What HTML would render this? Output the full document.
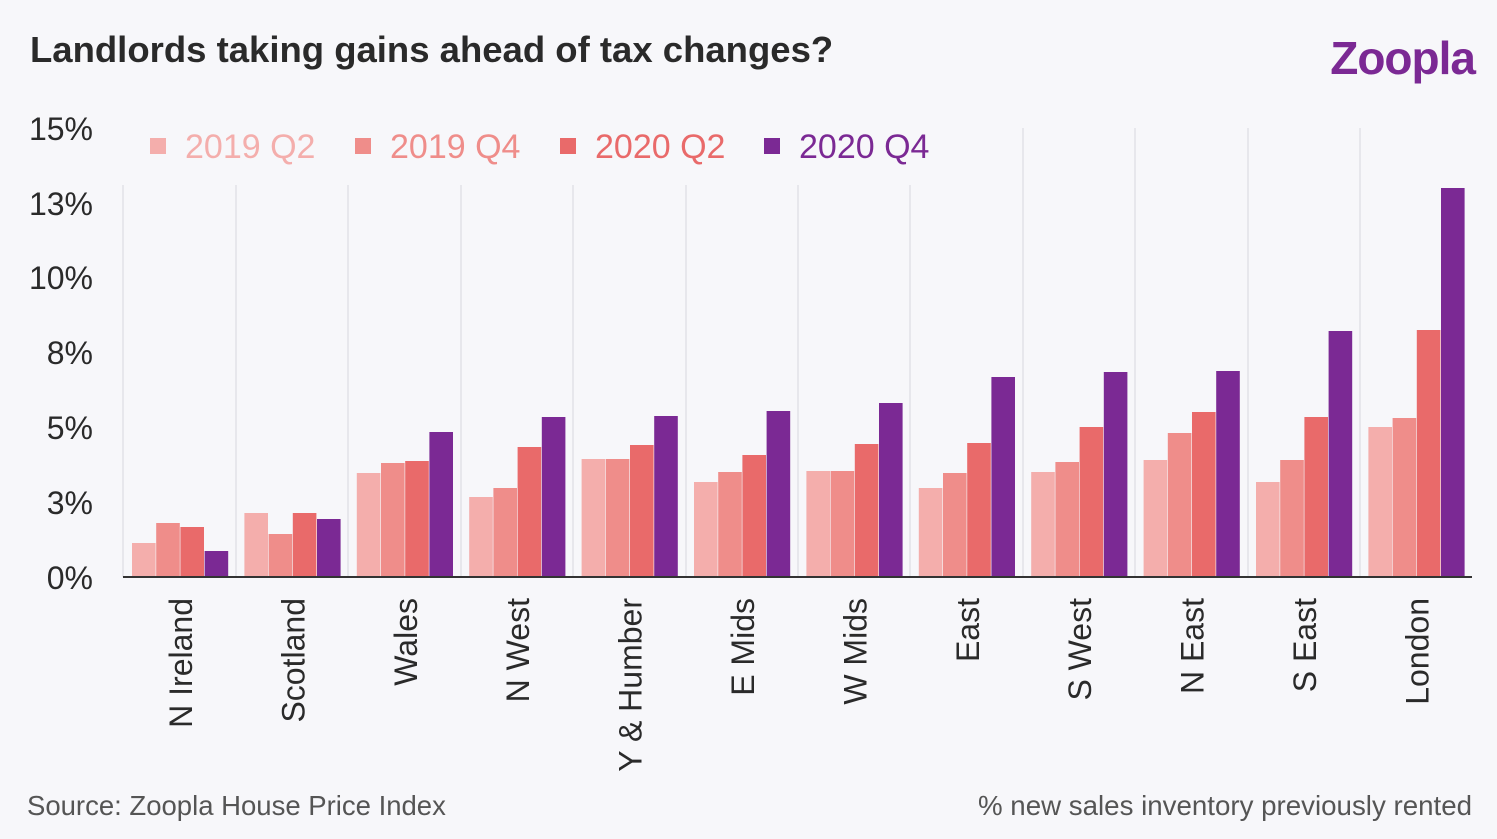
<!DOCTYPE html>
<html><head><meta charset="utf-8"><style>
body{margin:0;background:#f7f7fa;}
svg{display:block;font-family:"Liberation Sans",sans-serif;}
</style></head><body>
<svg width="1497" height="839" viewBox="0 0 1497 839">
<rect width="1497" height="839" fill="#f7f7fa"/>
<text x="30" y="62" font-size="36.5" font-weight="bold" fill="#2a2a2a">Landlords taking gains ahead of tax changes?</text>
<text x="1475" y="74" text-anchor="end" font-size="46" font-weight="bold" fill="#7b2994" letter-spacing="-1">Zoopla</text>
<g stroke="#e2e2e8" stroke-width="1.5">
<line x1="123" y1="185" x2="123" y2="577"/>
<line x1="236" y1="185" x2="236" y2="577"/>
<line x1="348" y1="185" x2="348" y2="577"/>
<line x1="461" y1="185" x2="461" y2="577"/>
<line x1="573" y1="185" x2="573" y2="577"/>
<line x1="686" y1="185" x2="686" y2="577"/>
<line x1="798" y1="185" x2="798" y2="577"/>
<line x1="910" y1="185" x2="910" y2="577"/>
<line x1="1023" y1="128" x2="1023" y2="577"/>
<line x1="1135" y1="128" x2="1135" y2="577"/>
<line x1="1248" y1="128" x2="1248" y2="577"/>
<line x1="1360" y1="128" x2="1360" y2="577"/>
</g>
<g font-size="32" fill="#2a2a2a" text-anchor="end">
<text x="93" y="140">15%</text><text x="93" y="215">13%</text><text x="93" y="289">10%</text>
<text x="93" y="364">8%</text><text x="93" y="439">5%</text><text x="93" y="514">3%</text><text x="93" y="589">0%</text>
</g>
<g font-size="34">
<rect x="150" y="138" width="16" height="16" fill="#f4aeac"/><text x="185" y="158" fill="#f4aeac">2019 Q2</text>
<rect x="355" y="138" width="16" height="16" fill="#ef8d8a"/><text x="390" y="158" fill="#ef8d8a">2019 Q4</text>
<rect x="560" y="138" width="16" height="16" fill="#e96a6a"/><text x="595" y="158" fill="#e96a6a">2020 Q2</text>
<rect x="764" y="138" width="16" height="16" fill="#7b2994"/><text x="799" y="158" fill="#7b2994">2020 Q4</text>
</g>
<g fill="#f4aeac">
<rect x="132" y="543" width="23.6" height="34"/>
<rect x="244.4" y="513" width="23.6" height="64"/>
<rect x="356.8" y="473" width="23.6" height="104"/>
<rect x="469.2" y="497" width="23.6" height="80"/>
<rect x="581.6" y="459" width="23.6" height="118"/>
<rect x="694" y="482" width="23.6" height="95"/>
<rect x="806.4" y="471" width="23.6" height="106"/>
<rect x="918.8" y="488" width="23.6" height="89"/>
<rect x="1031.2" y="472" width="23.6" height="105"/>
<rect x="1143.6" y="460" width="23.6" height="117"/>
<rect x="1256" y="482" width="23.6" height="95"/>
<rect x="1368.4" y="427" width="23.6" height="150"/>
</g>
<g fill="#ef8d8a">
<rect x="156.2" y="523" width="23.6" height="54"/>
<rect x="268.6" y="534" width="23.6" height="43"/>
<rect x="381" y="463" width="23.6" height="114"/>
<rect x="493.4" y="488" width="23.6" height="89"/>
<rect x="605.8" y="459" width="23.6" height="118"/>
<rect x="718.2" y="472" width="23.6" height="105"/>
<rect x="830.6" y="471" width="23.6" height="106"/>
<rect x="943" y="473" width="23.6" height="104"/>
<rect x="1055.4" y="462" width="23.6" height="115"/>
<rect x="1167.8" y="433" width="23.6" height="144"/>
<rect x="1280.2" y="460" width="23.6" height="117"/>
<rect x="1392.6" y="418" width="23.6" height="159"/>
</g>
<g fill="#e96a6a">
<rect x="180.4" y="527" width="23.6" height="50"/>
<rect x="292.8" y="513" width="23.6" height="64"/>
<rect x="405.2" y="461" width="23.6" height="116"/>
<rect x="517.6" y="447" width="23.6" height="130"/>
<rect x="630" y="445" width="23.6" height="132"/>
<rect x="742.4" y="455" width="23.6" height="122"/>
<rect x="854.8" y="444" width="23.6" height="133"/>
<rect x="967.2" y="443" width="23.6" height="134"/>
<rect x="1079.6" y="427" width="23.6" height="150"/>
<rect x="1192" y="412" width="23.6" height="165"/>
<rect x="1304.4" y="417" width="23.6" height="160"/>
<rect x="1416.8" y="330" width="23.6" height="247"/>
</g>
<g fill="#7b2994">
<rect x="204.6" y="551" width="23.6" height="26"/>
<rect x="317" y="519" width="23.6" height="58"/>
<rect x="429.4" y="432" width="23.6" height="145"/>
<rect x="541.8" y="417" width="23.6" height="160"/>
<rect x="654.2" y="416" width="23.6" height="161"/>
<rect x="766.6" y="411" width="23.6" height="166"/>
<rect x="879" y="403" width="23.6" height="174"/>
<rect x="991.4" y="377" width="23.6" height="200"/>
<rect x="1103.8" y="372" width="23.6" height="205"/>
<rect x="1216.2" y="371" width="23.6" height="206"/>
<rect x="1328.6" y="331" width="23.6" height="246"/>
<rect x="1441" y="188" width="23.6" height="389"/>
</g>
<line x1="123" y1="577" x2="1472" y2="577" stroke="#333" stroke-width="2"/>
<g font-size="32" fill="#2a2a2a" text-anchor="end">
<text transform="translate(192,598) rotate(-90)">N Ireland</text>
<text transform="translate(304.4,598) rotate(-90)">Scotland</text>
<text transform="translate(416.8,598) rotate(-90)">Wales</text>
<text transform="translate(529.2,598) rotate(-90)">N West</text>
<text transform="translate(641.6,598) rotate(-90)">Y &amp; Humber</text>
<text transform="translate(754,598) rotate(-90)">E Mids</text>
<text transform="translate(866.4,598) rotate(-90)">W Mids</text>
<text transform="translate(978.8,598) rotate(-90)">East</text>
<text transform="translate(1091.2,598) rotate(-90)">S West</text>
<text transform="translate(1203.6,598) rotate(-90)">N East</text>
<text transform="translate(1316,598) rotate(-90)">S East</text>
<text transform="translate(1428.4,598) rotate(-90)">London</text>
</g>
<text x="27" y="815" font-size="27.5" fill="#555">Source: Zoopla House Price Index</text>
<text x="1472" y="815" font-size="27.7" fill="#555" text-anchor="end">% new sales inventory previously rented</text>
</svg>
</body></html>
